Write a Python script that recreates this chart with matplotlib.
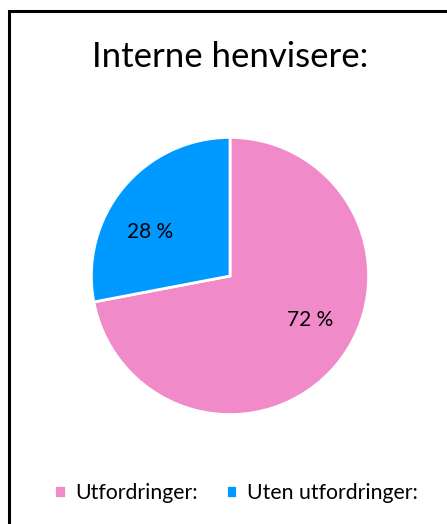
import numpy as np
import matplotlib.pyplot as plt
from matplotlib.patches import Rectangle

# data
title = "Interne henvisere:"
labels = ["Utfordringer:", "Uten utfordringer:"]
values = [72, 28]
colors = ["#F08AC9", "#0099FF"]

plt.rcParams["font.family"] = ["Lato", "DejaVu Sans"]

W, H = 447, 524
fig = plt.figure(figsize=(W / 100, H / 100), dpi=100)

# outer frame (cut off at right and bottom like the reference)
fig.patches.append(Rectangle((9 / W, -0.1), 1.2, 1 - 11 / H + 0.1,
                             transform=fig.transFigure, fill=False,
                             edgecolor="black", linewidth=2.2))

fig.text(230 / W, 1 - 57 / H, title, ha="center", va="center", fontsize=25)

# pie axes: centre (230, 276) px, radius 140 px
r = 140
ax = fig.add_axes([(230 - r) / W, 1 - (276 + r) / H, 2 * r / W, 2 * r / H])
wedges, texts = ax.pie(
    values, colors=colors, startangle=90, counterclock=False, radius=1,
    wedgeprops=dict(edgecolor="white", linewidth=2))
# percentage labels, placed a bit off the wedge middle like the Excel layout
for w, v in zip(wedges, values):
    ang = np.deg2rad((w.theta1 + w.theta2) / 2 + 11)
    ax.text(0.66 * np.cos(ang), 0.66 * np.sin(ang), f"{v} %",
            ha="center", va="center", fontsize=15)
ax.set_xlim(-1.01, 1.01)
ax.set_ylim(-1.01, 1.01)
ax.set_aspect("equal")

leg = fig.legend(wedges, labels, loc="center", bbox_to_anchor=(236 / W, 1 - 493 / H),
                 ncol=2, frameon=False, fontsize=15.3, handlelength=0.55,
                 handleheight=0.55, handletextpad=0.45, columnspacing=1.3)

fig.savefig("out.png", dpi=100)
